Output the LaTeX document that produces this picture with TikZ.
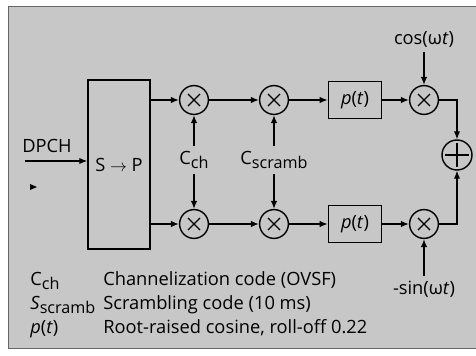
\documentclass[tikz,border=0pt]{standalone}
\usepackage{fontspec}
\setmainfont{Open Sans}
\usetikzlibrary{calc,arrows.meta}
\newcommand{\lowsub}[1]{\raisebox{-0.45ex}{\fontsize{11.5}{13}\selectfont #1}}

\begin{document}
\begin{tikzpicture}[
        x=0.025cm, y=-0.025cm,
        font=\fontsize{13}{15}\selectfont,
        block/.style={draw, rectangle, line width=1pt, inner sep=0pt},
        mult/.style={draw, circle, line width=1pt, minimum size=0.72cm, inner sep=0pt,
            path picture={
                \draw[line width=0.8pt]
                    ($(path picture bounding box.center)!0.42!(path picture bounding box.north west)$) --
                    ($(path picture bounding box.center)!0.42!(path picture bounding box.south east)$)
                    ($(path picture bounding box.center)!0.42!(path picture bounding box.north east)$) --
                    ($(path picture bounding box.center)!0.42!(path picture bounding box.south west)$);
            }},
        adder/.style={draw, circle, line width=1pt, minimum size=0.75cm, inner sep=0pt,
            path picture={
                \draw[line width=0.8pt]
                    ($(path picture bounding box.center)!0.78!(path picture bounding box.west)$) --
                    ($(path picture bounding box.center)!0.78!(path picture bounding box.east)$)
                    ($(path picture bounding box.center)!0.78!(path picture bounding box.north)$) --
                    ($(path picture bounding box.center)!0.78!(path picture bounding box.south)$);
            }},
        legend/.style={anchor=base west, inner sep=0pt},
        rel/.style={-{Latex[length=2mm,width=1.6mm]}, line width=0.9pt}
    ]
        \useasboundingbox (0,0) rectangle (476,356);
        \fill[black!22, draw=black!60, line width=0.5pt] (8,6) rectangle (476,348);

        \node[block, minimum width=1.55cm, minimum height=4.22cm] (sp) at (119,164.5) {S $\rightarrow$ P};
        \node[mult] (ma1) at (194,100) {};
        \node[mult] (ma2) at (274,100) {};
        \node[block, minimum width=1.33cm, minimum height=0.93cm] (pa) at (355,100) {\textit{p}(\textit{t})};
        \node[mult] (ma3) at (424,100) {};
        \node[mult] (mb1) at (194,224) {};
        \node[mult] (mb2) at (274,224) {};
        \node[block, minimum width=1.33cm, minimum height=0.93cm] (pb) at (355,224) {\textit{p}(\textit{t})};
        \node[mult] (mb3) at (424,224) {};
        \node[adder] (sum) at (457,155) {};

        \node (cos) at (424,39) {cos(ω\textit{t})};
        \node (sin) at (424,289) {-sin(ω\textit{t})};
        \node (cch) at (194,160) {C\lowsub{ch}};
        \node (cscr) at (274,160) {C\lowsub{scramb}};
        \node (dpch) at (47,146) {DPCH};
        \coordinate (din) at (25,161);

        \draw[rel] (din) -- (sp.west |- din);
        \draw[rel] (sp.east |- ma1) -- (ma1);
        \draw[rel] (sp.east |- mb1) -- (mb1);
        \draw[rel] (ma1) -- (ma2);
        \draw[rel] (ma2) -- (pa);
        \draw[rel] (pa) -- (ma3);
        \draw[rel] (ma3) -| (sum);
        \draw[rel] (mb1) -- (mb2);
        \draw[rel] (mb2) -- (pb);
        \draw[rel] (pb) -- (mb3);
        \draw[rel] (mb3) -| (sum);
        \draw[rel] (cch) -- (ma1);
        \draw[rel] (cch) -- (mb1);
        \draw[rel] (cscr) -- (ma2);
        \draw[rel] (cscr) -- (mb2);
        \draw[rel] (cos) -- (ma3);
        \draw[rel] (sin) -- (mb3);
        \fill (30,184) -- (37,187) -- (30,190) -- cycle;

        \node[legend] (lg1) at (30,285) {C\lowsub{ch}};
        \node[legend] (lg2) at (30,309) {\textit{S}\lowsub{scramb}};
        \node[legend] (lg3) at (30,333) {\textit{p}(\textit{t})};
        \node[legend] (tx1) at (103,285) {Channelization code (OVSF)};
        \node[legend] (tx2) at (103,309) {Scrambling code (10 ms)};
        \node[legend] (tx3) at (103,333) {Root-raised cosine, roll-off 0.22};
    \end{tikzpicture}
\end{document}
